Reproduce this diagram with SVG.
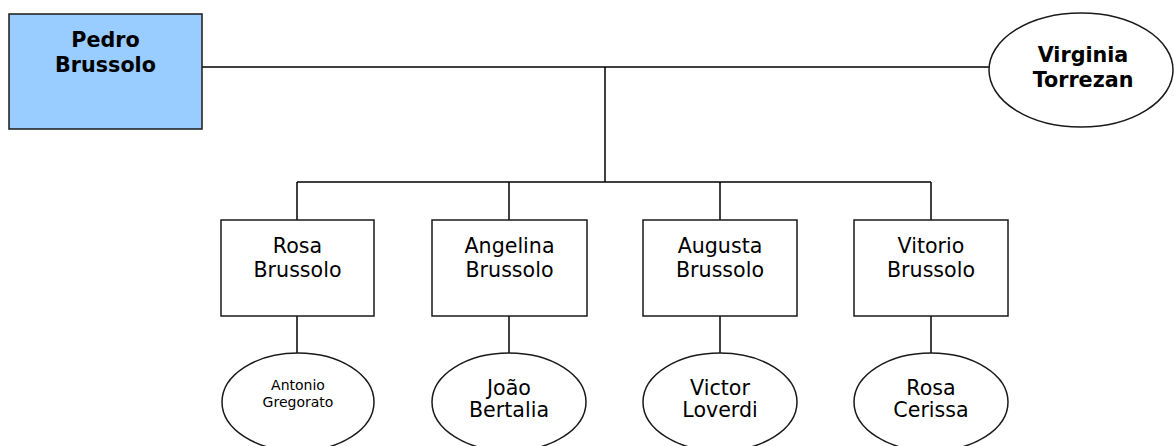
<svg xmlns="http://www.w3.org/2000/svg" width="1174" height="446" viewBox="0 0 1174 446">
  <style>
    .shape { fill: #ffffff; stroke: #1a1a1a; stroke-width: 1.5; }
    .root { fill: #99ccff; }
    .link { fill: none; stroke: #000000; stroke-width: 1.5; }
    text { font-family: "DejaVu Sans", Verdana, sans-serif; fill: #000000; text-anchor: middle; }
    .bold { font-weight: bold; font-size: 20.7px; }
    .name { font-size: 20.6px; }
    .small { font-size: 14px; }
  </style>

  <!-- connectors -->
  <g id="connectors">
    <line class="link" x1="202" y1="67" x2="989" y2="67"/>
    <line class="link" x1="605" y1="67" x2="605" y2="182"/>
    <line class="link" x1="297" y1="182" x2="931" y2="182"/>
    <line class="link" x1="297" y1="182" x2="297" y2="220"/>
    <line class="link" x1="509" y1="182" x2="509" y2="220"/>
    <line class="link" x1="720" y1="182" x2="720" y2="220"/>
    <line class="link" x1="931" y1="182" x2="931" y2="220"/>
    <line class="link" x1="297" y1="316" x2="297" y2="353"/>
    <line class="link" x1="509" y1="316" x2="509" y2="353"/>
    <line class="link" x1="720" y1="316" x2="720" y2="353"/>
    <line class="link" x1="931" y1="316" x2="931" y2="353"/>
  </g>

  <g id="pedro">
    <rect class="shape root" x="9" y="14" width="193" height="115"/>
    <text class="bold" x="105.5" y="47">Pedro</text>
    <text class="bold" x="105.5" y="72">Brussolo</text>
  </g>

  <g id="virginia">
    <ellipse class="shape" cx="1081" cy="70" rx="92" ry="57"/>
    <text class="bold" x="1083" y="62">Virginia</text>
    <text class="bold" x="1083" y="87">Torrezan</text>
  </g>

  <g id="rosa">
    <rect class="shape" x="221" y="220" width="153" height="96"/>
    <text class="name" x="297.5" y="253">Rosa</text>
    <text class="name" x="297.5" y="277">Brussolo</text>
  </g>

  <g id="angelina">
    <rect class="shape" x="432" y="220" width="155" height="96"/>
    <text class="name" x="509.5" y="253">Angelina</text>
    <text class="name" x="509.5" y="277">Brussolo</text>
  </g>

  <g id="augusta">
    <rect class="shape" x="643" y="220" width="154" height="96"/>
    <text class="name" x="720" y="253">Augusta</text>
    <text class="name" x="720" y="277">Brussolo</text>
  </g>

  <g id="vitorio">
    <rect class="shape" x="854" y="220" width="154" height="96"/>
    <text class="name" x="931" y="253">Vitorio</text>
    <text class="name" x="931" y="277">Brussolo</text>
  </g>

  <g id="antonio">
    <ellipse class="shape" cx="298" cy="402" rx="76" ry="49"/>
    <text class="small" x="298" y="390">Antonio</text>
    <text class="small" x="298" y="407">Gregorato</text>
  </g>

  <g id="joao">
    <ellipse class="shape" cx="509" cy="402" rx="77" ry="49"/>
    <text class="name" x="509" y="395">João</text>
    <text class="name" x="509" y="417">Bertalia</text>
  </g>

  <g id="victor">
    <ellipse class="shape" cx="720" cy="402" rx="77" ry="49"/>
    <text class="name" x="720" y="395">Victor</text>
    <text class="name" x="720" y="417">Loverdi</text>
  </g>

  <g id="rosa-cerissa">
    <ellipse class="shape" cx="931" cy="402" rx="77" ry="49"/>
    <text class="name" x="931" y="395">Rosa</text>
    <text class="name" x="931" y="417">Cerissa</text>
  </g>
</svg>
